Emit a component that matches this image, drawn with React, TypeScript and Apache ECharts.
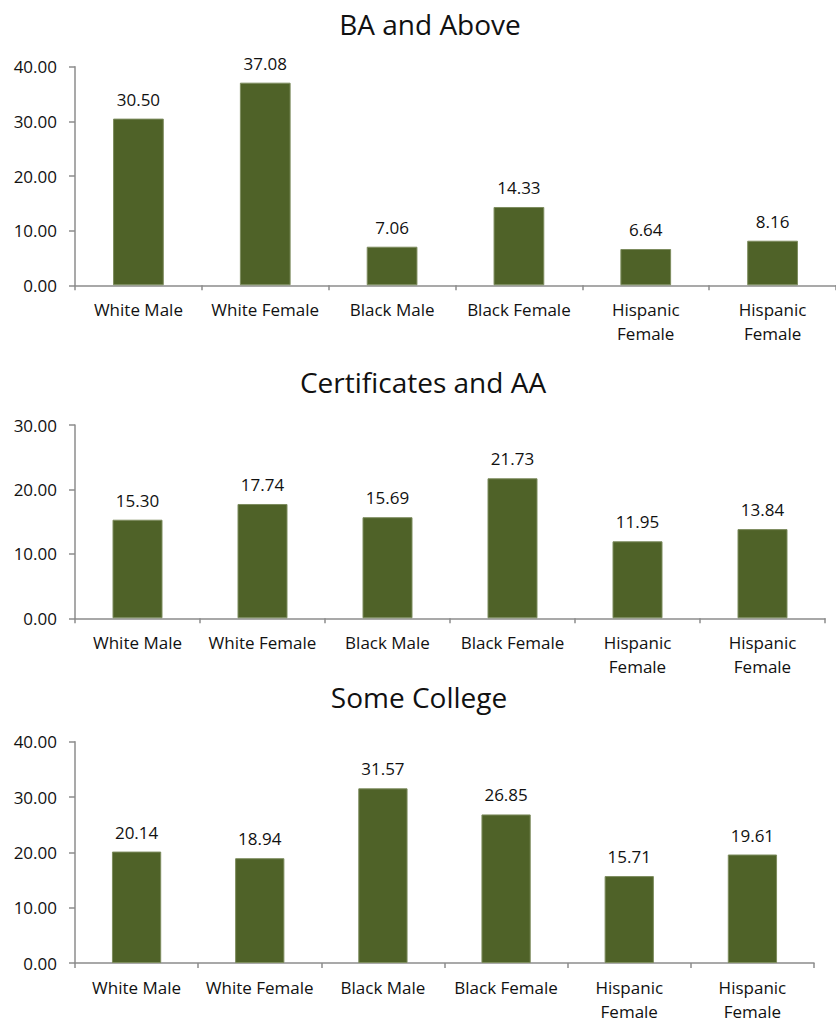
import React, { useEffect, useRef } from "react";
import * as echarts from "echarts";

const categories = ["White Male", "White Female", "Black Male", "Black Female", "Hispanic\nFemale", "Hispanic\nFemale"];
const titles = ["BA and Above", "Certificates and AA", "Some College"];
const baValues = [30.5, 37.08, 7.06, 14.33, 6.64, 8.16];
const certValues = [15.3, 17.74, 15.69, 21.73, 11.95, 13.84];
const someCollegeValues = [20.14, 18.94, 31.57, 26.85, 15.71, 19.61];
const yMax = [40, 30, 40];
const yInterval = 10;

const FONT = "Open Sans";
const TEXT = "#111111";
const AXIS = "#8c8c8c";
const BAR = "#4F6228";

const grids = [
  { left: 75, top: 66.7, width: 766, height: 218.6 },
  { left: 75, top: 425, width: 750, height: 193.3 },
  { left: 75, top: 741.7, width: 739, height: 223.3 },
];
const titlePos = [
  { x: 430, y: 24 },
  { x: 423, y: 382 },
  { x: 419, y: 697 },
];

export default function App() {
  const ref = useRef<HTMLDivElement>(null);
  useEffect(() => {
    if (!ref.current) return;
    const chart = echarts.init(ref.current, null, { renderer: "svg" });
    const seriesData = [baValues, certValues, someCollegeValues];
    chart.setOption({
      animation: false,
      backgroundColor: "#ffffff",
      textStyle: { fontFamily: FONT },
      grid: grids.map((g) => ({ ...g, containLabel: false })),
      graphic: titles.map((t, i) => ({
        type: "text",
        x: titlePos[i].x,
        y: titlePos[i].y,
        style: {
          text: t,
          font: `28px "${FONT}"`,
          fill: TEXT,
          textAlign: "center",
          textVerticalAlign: "middle",
        },
      })),
      xAxis: seriesData.map((_, i) => ({
        type: "category",
        gridIndex: i,
        data: categories,
        boundaryGap: true,
        axisLine: { show: true, lineStyle: { color: AXIS, width: 1.5 } },
        axisTick: { show: true, length: 5, lineStyle: { color: AXIS, width: 1.5 }, alignWithLabel: false },
        axisLabel: {
          interval: 0,
          color: TEXT,
          fontSize: 17,
          fontFamily: FONT,
          margin: 12,
          lineHeight: 24,
        },
        splitLine: { show: false },
      })),
      yAxis: seriesData.map((_, i) => ({
        type: "value",
        gridIndex: i,
        min: 0,
        max: yMax[i],
        interval: yInterval,
        axisLine: { show: true, lineStyle: { color: AXIS, width: 1.5 } },
        axisTick: { show: true, length: 6, lineStyle: { color: AXIS, width: 1.5 } },
        axisLabel: {
          color: TEXT,
          fontSize: 17,
          fontFamily: FONT,
          margin: 18,
          formatter: (v: number) => v.toFixed(2),
        },
        splitLine: { show: false },
      })),
      series: seriesData.map((d, i) => ({
        type: "bar",
        xAxisIndex: i,
        yAxisIndex: i,
        data: d,
        barWidth: "40%",
        itemStyle: { color: BAR, borderColor: "#7d8c5e", borderWidth: 1 },
        label: {
          show: true,
          position: "top",
          distance: 11,
          color: TEXT,
          fontSize: 17,
          fontFamily: FONT,
          formatter: (p: any) => Number(p.value).toFixed(2),
        },
      })),
    });
    return () => chart.dispose();
  }, []);
  return (
    <div
      ref={ref}
      style={{ position: "absolute", left: 0, top: 0, width: 836, height: 1023, overflow: "hidden" }}
    />
  );
}
